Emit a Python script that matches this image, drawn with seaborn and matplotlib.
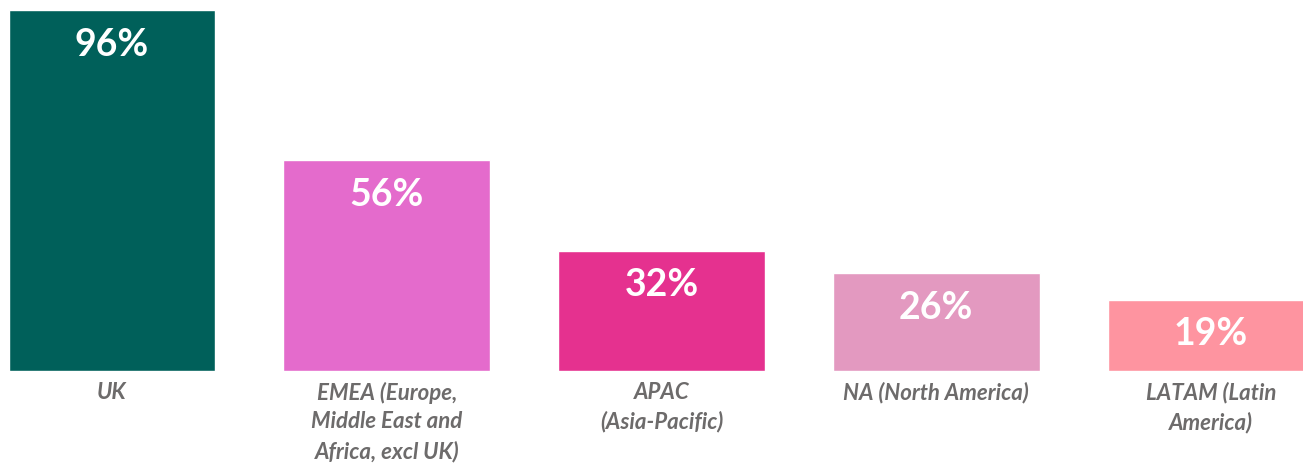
import matplotlib
matplotlib.use("Agg")
import matplotlib.pyplot as plt
import seaborn as sns
import pandas as pd

# Data
regions = ["UK", "EMEA (Europe,\nMiddle East and\nAfrica, excl UK)", "APAC\n(Asia-Pacific)",
           "NA (North America)", "LATAM (Latin\nAmerica)"]
shares = [96, 56, 32, 26, 19]
colors = ["#00605a", "#e46bcc", "#e5318f", "#e399c0", "#fe94a0"]

df = pd.DataFrame({"region": regions, "share": shares})

sns.set_theme(style="white")
plt.rcParams['font.family'] = ['Lato', 'DejaVu Sans']

fig = plt.figure(figsize=(13.03, 4.64), dpi=100)
ax = fig.add_axes([0, 92 / 464, 1, 361 / 464])

sns.barplot(data=df, x="region", y="share", hue="region", palette=colors,
            width=0.753, saturation=1, legend=False, ax=ax)

ax.set_ylim(0, 96)
ax.set_xlim(-112 / 274.75, (1303 - 112) / 274.75)

# value labels inside the top of each bar
for i, v in enumerate(shares):
    ax.annotate(f"{v}%", (i, v), xytext=(0, -12), textcoords="offset points",
                ha="center", va="top", color="white", fontsize=27, fontweight="bold")

ax.set_xlabel("")
ax.set_ylabel("")
ax.set_yticks([])
ax.tick_params(axis="x", length=0, pad=7)
for lbl in ax.get_xticklabels():
    lbl.set_fontstyle("italic")
    lbl.set_fontweight("bold")
    lbl.set_fontsize(16)
    lbl.set_color("#6d6b6b")
    lbl.set_linespacing(1.45)
    lbl.set_verticalalignment("top")
sns.despine(ax=ax, left=True, bottom=True)

fig.savefig("out.png", dpi=100)
